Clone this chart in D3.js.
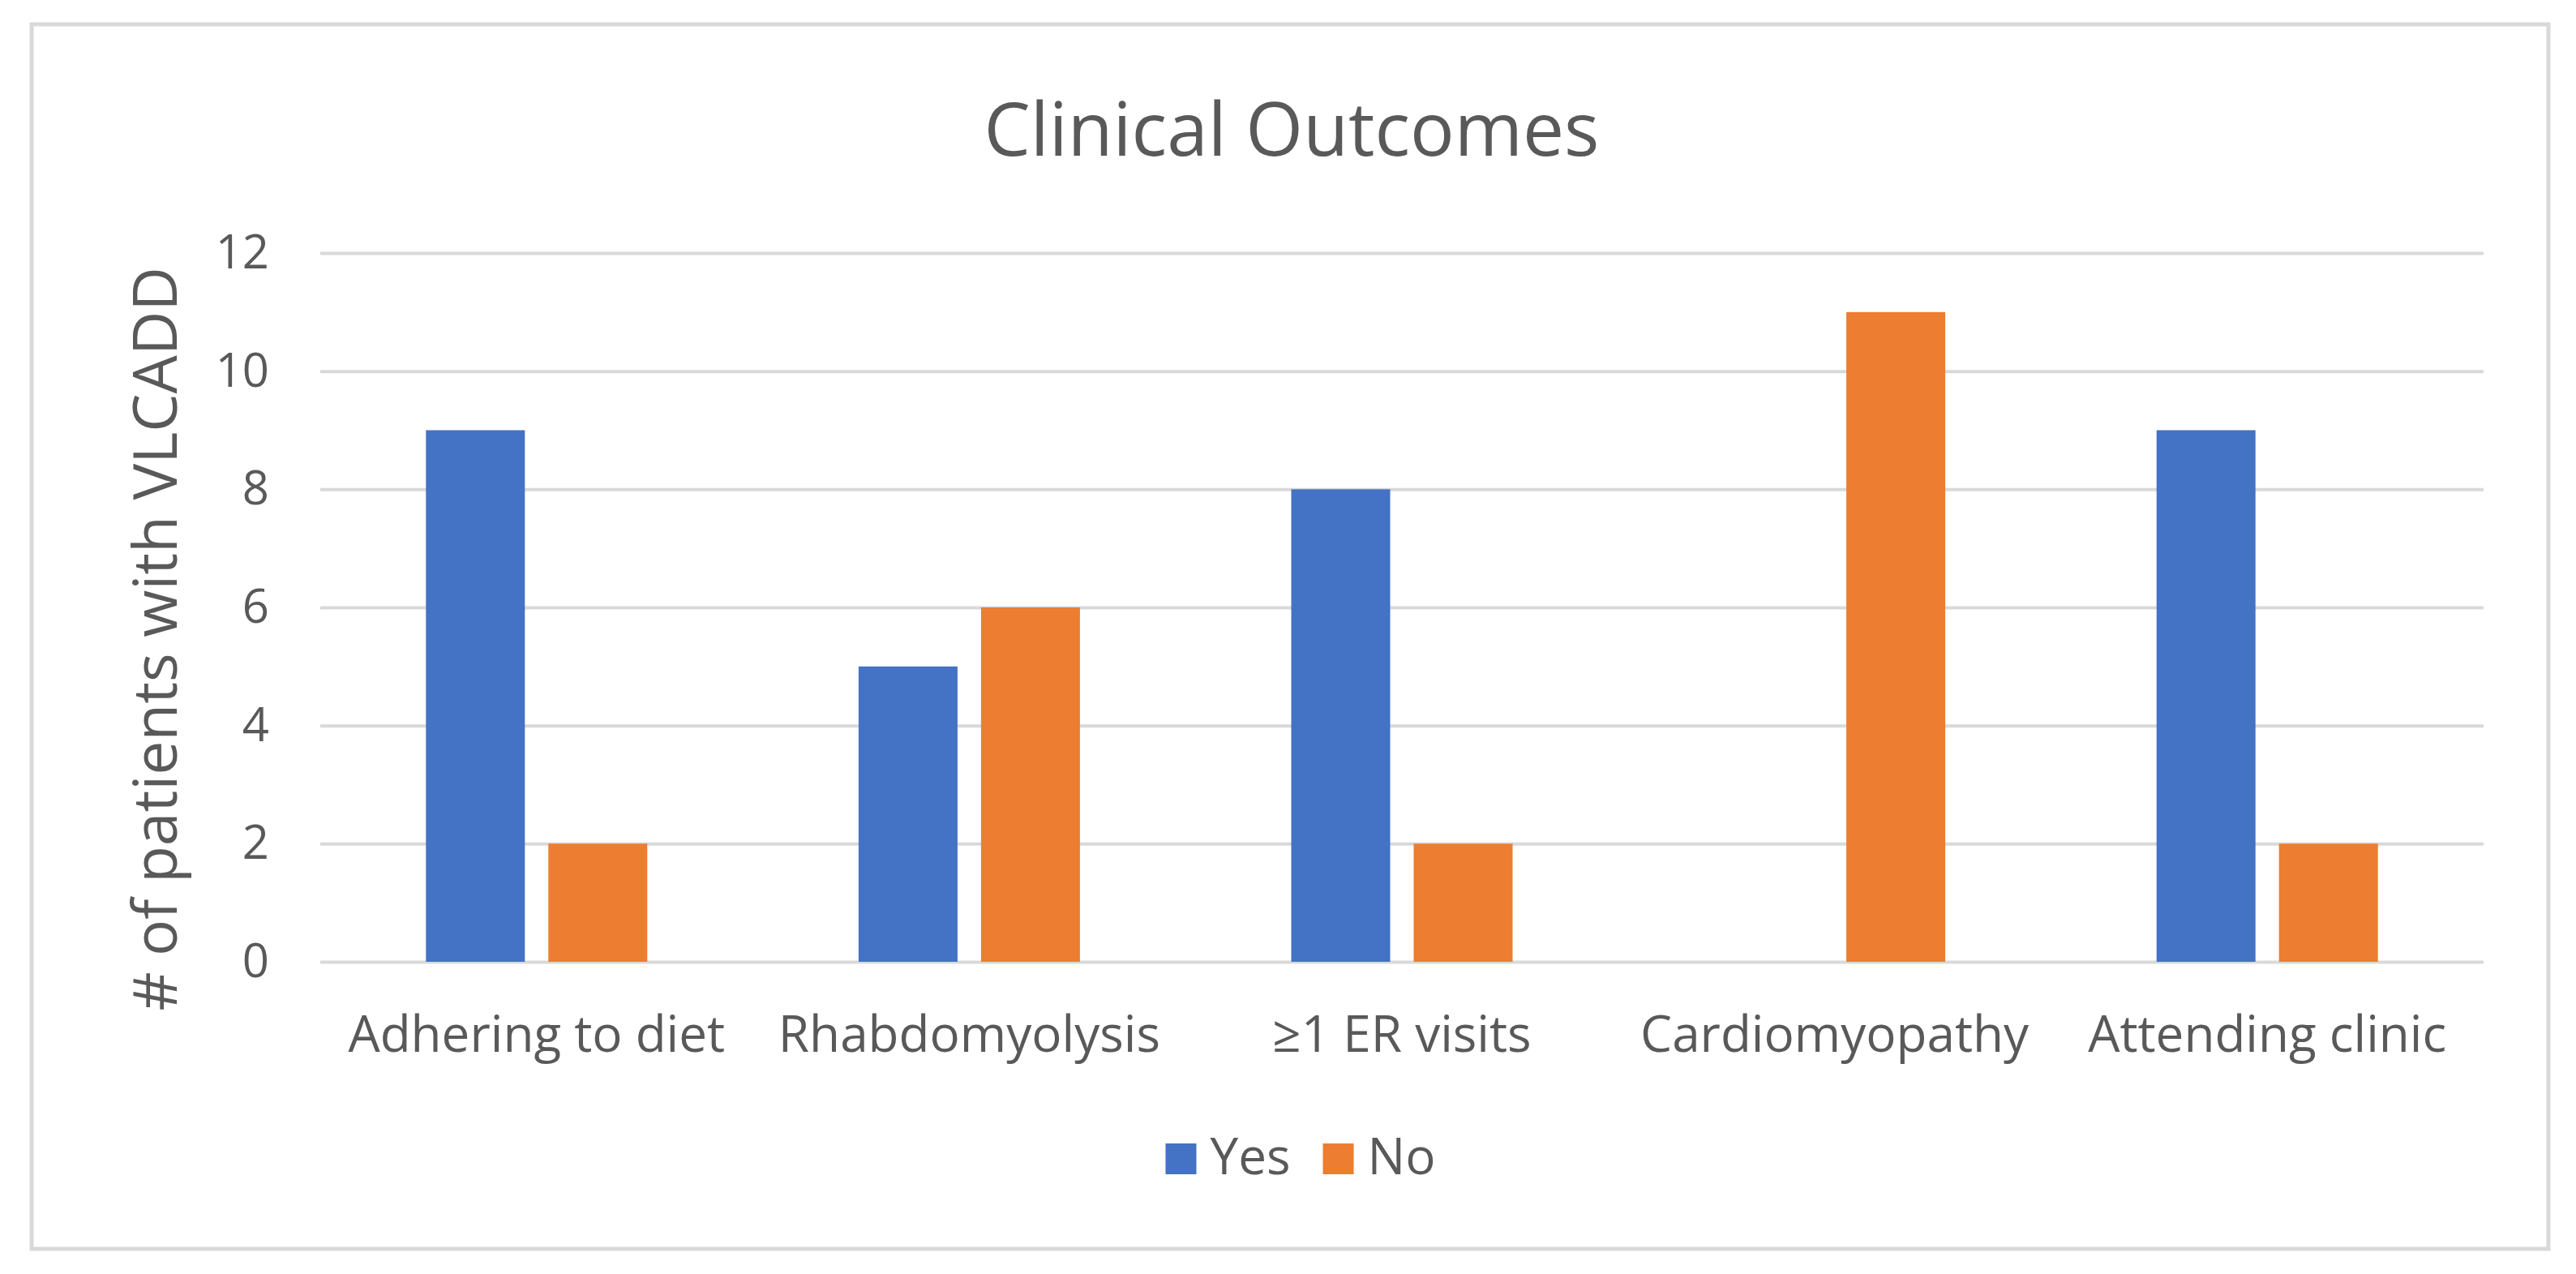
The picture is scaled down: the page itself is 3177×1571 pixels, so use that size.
<!DOCTYPE html>
<html>
<head>
<meta charset="utf-8">
<script src="https://cdn.jsdelivr.net/npm/d3@7"></script>
<style>
  body { margin: 0; background: #fff; }
  text { font-family: "Open Sans", "Noto Sans", sans-serif; fill: #595959; }
</style>
</head>
<body>
<svg id="chart" width="3177" height="1571"></svg>
<script>
// data
let categories = ["Adhering to diet", "Rhabdomyolysis", "\u22651 ER visits", "Cardiomyopathy", "Attending clinic"];
let seriesNames = ["Yes", "No"];
let yesValues = [9, 5, 8, 0, 9];
let noValues = [2, 6, 2, 11, 2];
let yTicks = [0, 2, 4, 6, 8, 10, 12];
let colors = ["#4472C4", "#ED7D31"];

let svg = d3.select("#chart");

// chart frame
svg.append("rect")
  .attr("x", 39).attr("y", 30)
  .attr("width", 3104).attr("height", 1510)
  .attr("fill", "#fff")
  .attr("stroke", "#d9d9d9")
  .attr("stroke-width", 5);

let plot = { left: 395, right: 3063, top: 312, bottom: 1186 };

let y = d3.scaleLinear().domain([0, 12]).range([plot.bottom, plot.top]);
let x0 = d3.scaleBand().domain(categories).range([plot.left, plot.right]);
let x1 = d3.scaleBand().domain(seriesNames).range([0, x0.bandwidth()])
  .paddingInner(0.192).paddingOuter(0.863);

// gridlines + y labels
let yAxis = svg.append("g")
  .attr("transform", "translate(" + plot.left + ",0)")
  .call(d3.axisLeft(y).tickValues(yTicks).tickSize(-(plot.right - plot.left)).tickPadding(63));
yAxis.select(".domain").remove();
yAxis.selectAll(".tick line").attr("stroke", "#d9d9d9").attr("stroke-width", 4);
yAxis.selectAll(".tick text")
  .attr("font-size", 58)
  .attr("font-family", "'Open Sans', sans-serif")
  .attr("fill", "#595959");

// bars
let rows = categories.map(function(c, i) {
  return { cat: c, vals: [yesValues[i], noValues[i]] };
});

let groups = svg.append("g").selectAll("g")
  .data(rows)
  .enter()
  .append("g")
  .attr("transform", function(d) { return "translate(" + x0(d.cat) + ",0)"; });

groups.selectAll("rect")
  .data(function(d) {
    return d.vals.map(function(v, j) { return { name: seriesNames[j], value: v, color: colors[j] }; });
  })
  .enter()
  .append("rect")
  .attr("x", function(d) { return x1(d.name); })
  .attr("y", function(d) { return y(d.value); })
  .attr("width", x1.bandwidth())
  .attr("height", function(d) { return y(0) - y(d.value); })
  .attr("fill", function(d) { return d.color; });

// category labels
let xAxis = svg.append("g")
  .attr("transform", "translate(0," + plot.bottom + ")")
  .call(d3.axisBottom(x0).tickSize(0));
xAxis.select(".domain").remove();
xAxis.selectAll(".tick text")
  .attr("y", 111)
  .attr("dy", 0)
  .attr("font-size", 62)
  .attr("font-family", "'Open Sans', sans-serif")
  .attr("fill", "#595959");

// title
svg.append("text")
  .attr("x", 1593).attr("y", 192)
  .attr("text-anchor", "middle")
  .attr("font-size", 91)
  .text("Clinical Outcomes");

// y axis title
svg.append("text")
  .attr("transform", "translate(218,788) rotate(-90)")
  .attr("text-anchor", "middle")
  .attr("font-size", 75)
  .text("# of patients with VLCADD");

// legend
let legend = svg.append("g");
let items = legend.selectAll("g")
  .data(seriesNames)
  .enter()
  .append("g");
items.append("rect")
  .attr("width", 38).attr("height", 38)
  .attr("y", -38)
  .attr("fill", function(d, i) { return colors[i]; });
items.append("text")
  .attr("x", 55)
  .attr("font-size", 62)
  .text(function(d) { return d; });

let offset = 0;
items.each(function() {
  let g = d3.select(this);
  g.attr("transform", "translate(" + offset + ",0)");
  offset += 55 + g.select("text").node().getComputedTextLength() + 40;
});
let legendWidth = offset - 40;
legend.attr("transform", "translate(" + (1604 - legendWidth / 2) + ",1448)");
</script>
</body>
</html>
